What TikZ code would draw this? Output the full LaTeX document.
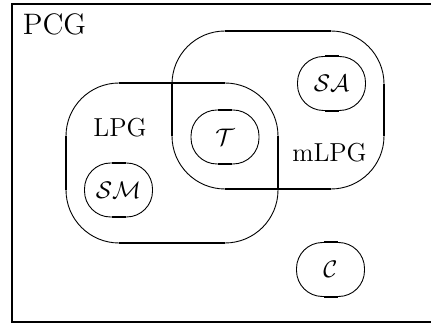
\documentclass[tikz,border=0pt]{standalone}
\usepackage{amsmath,amssymb}
\usepackage{tikz}
\newcommand{\SM}{\mathcal{SM}}
\newcommand{\SA}{\mathcal{SA}}
\newcommand{\Tc}{\mathcal{T}}
\newcommand{\Cc}{\mathcal{C}}
% rounded frame: thin arcs, heavier straight sides
\newcommand{\classframe}[4]{%
  \draw[classbox] (#1,#2) rectangle (#3,#4);
  \draw[edgeline] ({#1+53},#2) -- ({#3-53},#2)
                  ({#1+53},#4) -- ({#3-53},#4)
                  (#1,{#2+53}) -- (#1,{#4-53})
                  (#3,{#2+53}) -- (#3,{#4-53});}
\tikzset{
  classbox/.style={draw,line width=0.45pt,rounded corners=26.5pt},
  edgeline/.style={line width=1pt},
  subclass/.style={draw,line width=0.45pt,rounded corners=13pt,
    minimum width=34pt,minimum height=27pt,inner sep=0pt,
    font=\fontsize{13}{15}\selectfont},
  classname/.style={anchor=base,inner sep=0pt,
    font=\fontsize{13}{15}\selectfont}
}
\begin{document}
\begin{tikzpicture}[x=0.5pt,y=-0.5pt]
   \useasboundingbox (0,0) rectangle (431,324);
   \draw[line width=1.1pt] (12,4) rectangle (434,322);

   \classframe{66}{83}{278}{243}
   \classframe{172}{31}{384}{189}

   \node[classname,font=\fontsize{14.8}{17}\selectfont] (pcg) at (54.5,35) {PCG};
   \node[classname] (lpg) at (120,137) {LPG};
   \node[classname] (mlpg) at (329.5,162) {mLPG};

   \node[subclass] (t) at (225,137) {$\Tc$};
   \node[subclass] (sm) at (118.5,190) {$\SM$};
   \node[subclass] (sa) at (331.5,83.5) {$\SA$};
   \node[subclass] (c) at (330.5,269.5) {$\Cc$};

   \foreach \n in {t,sm,sa,c}
     \draw[edgeline] ([xshift=-3.5pt]\n.north) -- ([xshift=3.5pt]\n.north)
                     ([xshift=-3.5pt]\n.south) -- ([xshift=3.5pt]\n.south);
\end{tikzpicture}
\end{document}
